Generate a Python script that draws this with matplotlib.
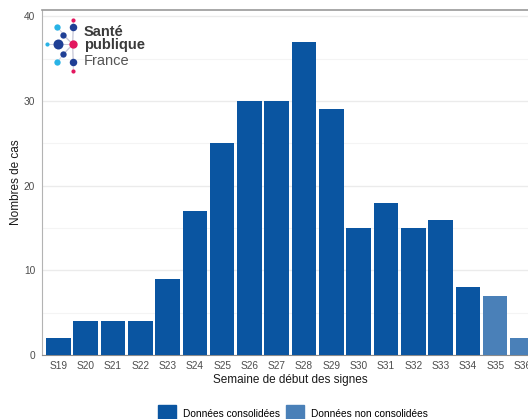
import numpy as np
import matplotlib
matplotlib.use("Agg")
import matplotlib.pyplot as plt
from matplotlib.patches import Patch

plt.rcParams['font.family'] = ['Liberation Sans', 'DejaVu Sans']

weeks = ['S19', 'S20', 'S21', 'S22', 'S23', 'S24', 'S25', 'S26', 'S27',
         'S28', 'S29', 'S30', 'S31', 'S32', 'S33', 'S34', 'S35', 'S36']
cases = [2, 4, 4, 4, 9, 17, 25, 30, 30, 37, 29, 15, 18, 15, 16, 8, 7, 2]
consolidated = [True] * 16 + [False] * 2

c_dark = '#0a55a1'
c_light = '#4a80b8'

W, H = 528, 419
fig = plt.figure(figsize=(W / 100, H / 100), dpi=100)

# plot area in pixels: left 42, top 9.5, bottom 355, 27.3 px per week
x0, ytop, ybot, step = 42, 9.5, 355, 27.3
xmin, xmax = -0.6, 17.6
ax = fig.add_axes([x0 / W, (H - ybot) / H, (xmax - xmin) * step / W, (ybot - ytop) / H])

x = np.arange(len(weeks))
colors = [c_dark if c else c_light for c in consolidated]
ax.bar(x, cases, width=0.9, color=colors, zorder=3)

ax.set_xlim(xmin, xmax)
ax.set_ylim(0, 40.8)
ax.set_xticks(x)
ax.set_xticklabels(weeks)
ax.set_yticks([0, 10, 20, 30, 40])
ax.set_yticks([5, 15, 25, 35], minor=True)
ax.grid(axis='y', which='major', color='#ebebeb', lw=1.0, zorder=0)
ax.grid(axis='y', which='minor', color='#f4f4f4', lw=0.8, zorder=0)
ax.tick_params(axis='both', which='both', length=0, labelsize=7.3, labelcolor='#4d4d4d', pad=4)
ax.tick_params(axis='y', pad=5)

ax.spines['right'].set_visible(False)
ax.spines['left'].set_color('#b3b3b3')
ax.spines['bottom'].set_color('#8c8c8c')
ax.spines['top'].set_color('#9a9a9a')
ax.spines['top'].set_linewidth(1.2)

ax.set_xlabel('Semaine de début des signes', fontsize=8.5, color='#1a1a1a', labelpad=2.5)
ax.set_ylabel('Nombres de cas', fontsize=8.5, color='#1a1a1a', labelpad=1)

handles = [Patch(color=c_dark, label='Données consolidées'),
           Patch(color=c_light, label='Données non consolidées')]
fig.legend(handles=handles, loc='center', bbox_to_anchor=(293 / W, 1 - 414 / H),
           ncol=2, frameon=False, fontsize=7.3, handlelength=1.8, handleheight=2.4,
           columnspacing=0.6, handletextpad=0.7, borderpad=0, borderaxespad=0)

# Santé publique France logo, pixel coordinates
lg = fig.add_axes([0, 0, 1, 1], zorder=5)
lg.set_xlim(0, W)
lg.set_ylim(H, 0)
lg.axis('off')
navy = '#1f3f95'
pink = '#e3175f'
cyan = '#29b3e6'
cx, cy = 72.7, 44.3
dots = [(47.3, 44.3, 2.5, cyan), (58.0, 44.3, 6, navy), (73.3, 20.0, 2.5, pink),
        (73.3, 26.7, 4.5, navy), (73.3, 62.3, 4.5, navy), (73.3, 71.0, 2.5, pink),
        (62.7, 35.0, 3.8, navy), (62.7, 54.3, 3.8, navy), (56.7, 26.7, 3.8, cyan),
        (56.7, 62.3, 3.8, cyan)]
for dx, dy, r, c in dots:
    lg.plot([cx, dx], [cy, dy], color='#c8c8d8', lw=0.6, zorder=1)
for dx, dy, r, c in dots:
    lg.plot(dx, dy, 'o', ms=r * 1.2, color=c, mec='none', zorder=2)
lg.plot(cx, cy, 'o', ms=6, color=pink, mec='none', zorder=3)
lg.text(84, 31.5, 'Santé', fontsize=10.5, fontweight='bold', color='#3a3a3a', va='center')
lg.text(84, 45, 'publique', fontsize=10.5, fontweight='bold', color='#3a3a3a', va='center')
lg.text(84, 61, 'France', fontsize=10.5, color='#555555', va='center')

fig.savefig('out.png', dpi=100)
